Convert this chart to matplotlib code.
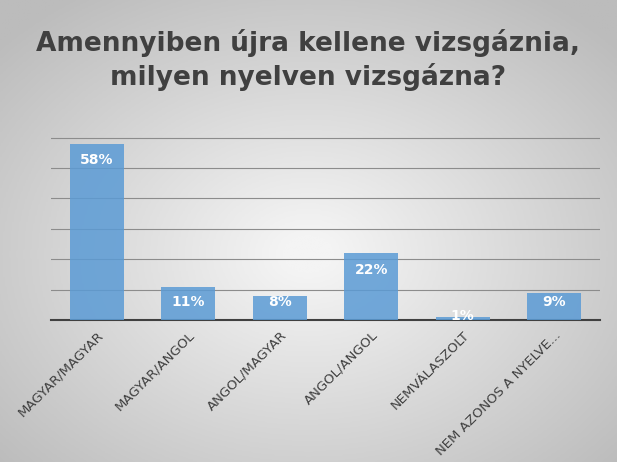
import numpy as np
import matplotlib.pyplot as plt
from matplotlib.colors import LinearSegmentedColormap

categories = ["MAGYAR/MAGYAR", "MAGYAR/ANGOL", "ANGOL/MAGYAR", "ANGOL/ANGOL",
              "NEMVÁLASZOLT", "NEM AZONOS A NYELVE..."]
values = [58, 11, 8, 22, 1, 9]
title = "Amennyiben újra kellene vizsgáznia,\nmilyen nyelven vizsgázna?"

fig = plt.figure(figsize=(6.17, 4.62), dpi=100)

# radial grey background
bg = fig.add_axes([0, 0, 1, 1], zorder=-10)
yy, xx = np.mgrid[0:1:300j, 0:1:400j]
r = np.sqrt(((xx - 0.5) / 0.8) ** 2 + ((yy - 0.55) / 0.8) ** 2)
cmap = LinearSegmentedColormap.from_list("bg", ["#f4f4f4", "#bcbcbc"])
bg.imshow(r, cmap=cmap, vmin=0.05, vmax=0.85, aspect="auto", extent=[0, 1, 0, 1])
bg.axis("off")

ax = fig.add_axes([51 / 617, 1 - 320 / 462, 549 / 617, 190 / 462])
ax.patch.set_alpha(0)
x = np.arange(len(categories))
ax.bar(x, values, width=0.59, color="#5b9bd5", alpha=0.85, zorder=3)
for xi, v in zip(x, values):
    ypos = max(v - 5.5, 6) if v >= 5 else v + 0.3
    ax.text(xi, ypos, f"{v}%", ha="center", va="center", color="white",
            fontsize=10, fontweight="bold", zorder=4)

ax.set_xlim(-0.5, len(categories) - 0.5)
ax.set_ylim(0, 62.5)
ax.set_yticks(range(10, 61, 10))
ax.yaxis.grid(True, color="#8c8c8c", linewidth=0.8, zorder=0)
ax.tick_params(axis="y", left=False, labelleft=False)
ax.tick_params(axis="x", length=0, pad=6)
ax.set_xticks(x)
ax.set_xticklabels(categories, rotation=45, ha="right", rotation_mode="anchor",
                   fontsize=9.5, color="#404040")
for s in ["top", "right", "left"]:
    ax.spines[s].set_visible(False)
ax.spines["bottom"].set_color("#404040")
ax.spines["bottom"].set_linewidth(1.5)

fig.text(0.5, 0.87, title, ha="center", va="center", fontsize=19,
         fontweight="bold", color="#404040", linespacing=1.25)

fig.savefig("out.png", dpi=100)
